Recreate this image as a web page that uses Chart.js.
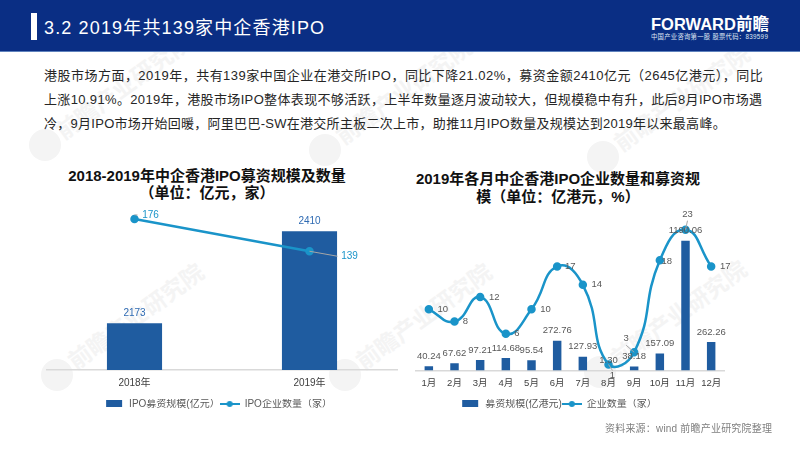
<!DOCTYPE html>
<html>
<head>
    <meta charset="utf-8">
    <title>2019年共139家中企香港IPO</title>
    <script src="https://cdn.jsdelivr.net/npm/chart.js"></script>
    <style>
        html, body { margin: 0; padding: 0; background: #fff; }
        #page { position: relative; width: 800px; height: 450px; overflow: hidden; font-family: "Liberation Sans", "Noto Sans CJK SC", sans-serif; }
        #page div, #page canvas { position: absolute; }
        #header { left: 0; top: 0; width: 800px; height: 52px; background: #0a2e84; border-bottom: 1px solid #5f82bd; box-sizing: border-box; }
        #bar { left: 31px; top: 13px; width: 6px; height: 27px; background: #fff; }
        #headline { left: 44px; top: 16px; color: #fff; font-size: 18px; letter-spacing: 1.15px; white-space: nowrap; line-height: 24px; }
        #logo { left: 651px; top: 14px; color: #fff; font-size: 16.5px; font-weight: bold; white-space: nowrap; line-height: 20px; }
        #sublogo { left: 651px; top: 33px; color: #dfe6f3; font-size: 6.3px; letter-spacing: .3px; white-space: nowrap; line-height: 8px; }
        .para { left: 44px; color: #262626; font-size: 13px; white-space: nowrap; line-height: 18px; }
        .ctitle { color: #111; font-size: 15px; font-weight: bold; text-align: center; white-space: nowrap; line-height: 18px; }
        #source { left: 605px; top: 423px; color: #7f7f7f; font-size: 10px; letter-spacing: .2px; white-space: nowrap; line-height: 12px; }
        .wm { color: #f4f4f4; font-size: 23px; font-weight: bold; white-space: nowrap; transform: rotate(-36deg); transform-origin: 0 50%; line-height: 26px; }
        .wmdot { width: 32px; height: 32px; border-radius: 50%; background: #f4f4f4; }
    </style>
</head>
<body>
<div id="page">
    <div id="marks"></div>
    <div id="header"></div>
    <div id="bar"></div>
    <div id="headline">3.2 2019年共139家中企香港IPO</div>
    <div id="logo">FORWARD前瞻</div>
    <div id="sublogo">中国产业咨询第一股 股票代码：839599</div>
    <div class="para" style="top:67px;letter-spacing:.48px">港股市场方面，2019年，共有139家中国企业在港交所IPO，同比下降21.02%，募资金额2410亿元（2645亿港元），同比</div>
    <div class="para" style="top:91px;letter-spacing:.35px">上涨10.91%。2019年，港股市场IPO整体表现不够活跃，上半年数量逐月波动较大，但规模稳中有升，此后8月IPO市场遇</div>
    <div class="para" style="top:115px;letter-spacing:.28px">冷，9月IPO市场开始回暖，阿里巴巴-SW在港交所主板二次上市，助推11月IPO数量及规模达到2019年以来最高峰。</div>
    <div class="ctitle" style="left:47px;width:320px;top:167px">2018-2019年中企香港IPO募资规模及数量</div>
    <div class="ctitle" style="left:47px;width:320px;top:184px">（单位：亿元，家）</div>
    <div class="ctitle" style="left:400px;width:316px;top:170px">2019年各月中企香港IPO企业数量和募资规</div>
    <div class="ctitle" style="left:400px;width:316px;top:188px">模（单位：亿港元，%）</div>
    <canvas id="yearChart" style="left:40px;top:195px;width:365px;height:232px"></canvas>
    <canvas id="monthChart" style="left:400px;top:195px;width:345px;height:232px"></canvas>
    <div id="source">资料来源：wind 前瞻产业研究院整理</div>
</div>
<script>
    // chart 1
    const yearLabels = ['2018年', '2019年'];
    const yearFunds = [2173, 2410];
    const yearCounts = [176, 139];

    // chart 2
    const monthLabels = ['1月', '2月', '3月', '4月', '5月', '6月', '7月', '8月', '9月', '10月', '11月', '12月'];
    const monthFunds = [40.24, 67.62, 97.21, 114.68, 95.54, 272.76, 127.93, 1.30, 38.18, 157.09, 1190.06, 262.26];
    const monthCounts = [10, 8, 12, 6, 10, 17, 14, 1, 3, 18, 23, 17];

    const BAR_BLUE = '#1f5ca0';
    const LINE_BLUE = '#1a94c9';
    const FONT = '"Liberation Sans", "Noto Sans CJK SC", sans-serif';

    // label offsets from the point, and which ones get a leader line
    const yearCountOffsets = [[16, -4], [40, 5]];
    const yearCountLeaders = [[[0, -4], [3, -4]], [[0, 0], [28, 5]]];
    const monthCountOffsets = [[14, 0], [11, 0], [14, 0], [11, 0], [14, 0], [13, 0], [14, 0], [4, 11], [-8, -14], [7, 1], [2, -15], [14, 0]];
    const monthCountLeaders = { 7: [[0, 0], [4, 6]], 8: [[0, 0], [-8, -7]], 10: [[0, 0], [2, -9]] };

    // faint company marks behind everything
    const markSpots = [[45, 145], [325, 150], [603, 157], [57, 375], [345, 375], [600, 372]];
    markSpots.forEach(function(p) {
        const dot = document.createElement('div');
        dot.className = 'wmdot';
        dot.style.left = (p[0] - 16) + 'px';
        dot.style.top = (p[1] - 16) + 'px';
        const txt = document.createElement('div');
        txt.className = 'wm';
        txt.textContent = '前瞻产业研究院';
        txt.style.left = (p[0] + 14) + 'px';
        txt.style.top = (p[1] - 24) + 'px';
        document.getElementById('marks').append(dot, txt);
    });

    function swatch(kind) {
        const c = document.createElement('canvas');
        c.width = 20;
        c.height = 10;
        const g = c.getContext('2d');
        if (kind == 'bar') {
            g.fillStyle = BAR_BLUE;
            g.fillRect(2, 1, 16, 7);
        } else {
            g.strokeStyle = LINE_BLUE;
            g.lineWidth = 2;
            g.beginPath();
            g.moveTo(0, 5);
            g.lineTo(20, 5);
            g.stroke();
            g.fillStyle = LINE_BLUE;
            g.beginPath();
            g.arc(10, 5, 3, 0, Math.PI * 2);
            g.fill();
        }
        return c;
    }

    const labelPlugin = {
        id: 'valueLabels',
        afterLayout: function(chart, args, opts) {
            chart.legend.left += opts.legendShift;
            chart.legend.right += opts.legendShift;
        },
        afterDatasetsDraw: function(chart, args, opts) {
            const ctx = chart.ctx;
            ctx.save();
            ctx.font = opts.fontSize + 'px ' + FONT;
            ctx.textAlign = 'center';
            ctx.textBaseline = 'middle';
            const bars = chart.getDatasetMeta(0).data;
            bars.forEach(function(el, i) {
                ctx.fillStyle = opts.barColor;
                ctx.fillText(opts.barText(i), el.x, el.y - 10);
            });
            const points = chart.getDatasetMeta(1).data;
            points.forEach(function(el, i) {
                const leader = opts.leaders[i];
                if (leader) {
                    ctx.strokeStyle = '#a6a6a6';
                    ctx.lineWidth = 1;
                    ctx.beginPath();
                    ctx.moveTo(el.x + leader[0][0], el.y + leader[0][1]);
                    ctx.lineTo(el.x + leader[1][0], el.y + leader[1][1]);
                    ctx.stroke();
                }
                ctx.fillStyle = opts.lineColor;
                ctx.fillText(opts.lineText(i), el.x + opts.offsets[i][0], el.y + opts.offsets[i][1]);
            });
            ctx.restore();
        }
    };

    function comboChart(id, conf) {
        return new Chart(document.getElementById(id), {
            data: {
                labels: conf.labels,
                datasets: [
                    {
                        type: 'bar',
                        label: conf.barName,
                        data: conf.bars,
                        yAxisID: 'yBar',
                        backgroundColor: BAR_BLUE,
                        barPercentage: conf.barSize,
                        categoryPercentage: 1,
                        order: 2
                    },
                    {
                        type: 'line',
                        label: conf.lineName,
                        data: conf.line,
                        yAxisID: 'yLine',
                        borderColor: LINE_BLUE,
                        backgroundColor: LINE_BLUE,
                        borderWidth: 2.5,
                        pointRadius: 3,
                        tension: conf.tension,
                        clip: false,
                        order: 1
                    }
                ]
            },
            options: {
                responsive: false,
                animation: false,
                devicePixelRatio: 1,
                layout: { padding: conf.padding },
                scales: {
                    x: {
                        grid: { display: false, drawTicks: false },
                        border: { color: '#d9d9d9', width: 1.5 },
                        ticks: { color: '#404040', font: { size: conf.tickSize, family: FONT }, padding: 7, maxRotation: 0, minRotation: 0, autoSkip: false },
                        afterFit: function(scale) { scale.height += conf.tickGap; }
                    },
                    yBar: { display: false, min: conf.barRange[0], max: conf.barRange[1] },
                    yLine: { display: false, min: conf.lineRange[0], max: conf.lineRange[1] }
                },
                plugins: {
                    tooltip: { enabled: false },
                    legend: {
                        position: 'bottom',
                        labels: {
                            color: '#595959',
                            font: { size: 10, family: FONT },
                            usePointStyle: true,
                            pointStyleWidth: 20,
                            boxHeight: 10,
                            padding: 0,
                            generateLabels: function() {
                                return [
                                    { text: conf.barName, pointStyle: swatch('bar'), fontColor: '#595959', datasetIndex: 0 },
                                    { text: conf.lineName, pointStyle: swatch('line'), fontColor: '#595959', datasetIndex: 1 }
                                ];
                            }
                        }
                    },
                    valueLabels: conf.valueLabels
                }
            },
            plugins: [labelPlugin]
        });
    }

    document.querySelectorAll('canvas').forEach(function(c) {
        c.width = parseInt(c.style.width);
        c.height = parseInt(c.style.height);
    });

    comboChart('yearChart', {
        labels: yearLabels,
        bars: yearFunds,
        line: yearCounts,
        barName: 'IPO募资规模(亿元）',
        lineName: 'IPO企业数量（家）',
        barSize: 0.315,
        tension: 0,
        tickSize: 10,
        tickGap: 3,
        padding: { left: 7, right: 8, top: 5, bottom: 8 },
        barRange: [2052, 2487],
        lineRange: [3, 196],
        valueLabels: {
            legendShift: -4,
            fontSize: 10,
            barColor: '#2f6bb3',
            lineColor: LINE_BLUE,
            barText: i => String(yearFunds[i]),
            lineText: i => String(yearCounts[i]),
            offsets: yearCountOffsets,
            leaders: yearCountLeaders
        }
    });

    comboChart('monthChart', {
        labels: monthLabels,
        bars: monthFunds,
        line: monthCounts,
        barName: '募资规模(亿港元)',
        lineName: '企业数量（家）',
        barSize: 0.33,
        tension: 0.5,
        tickSize: 9.5,
        tickGap: 3,
        padding: { left: 16, right: 21, top: 5, bottom: 8 },
        barRange: [0, 1550],
        lineRange: [0, 27.6],
        valueLabels: {
            legendShift: -11.5,
            fontSize: 9.5,
            barColor: '#595959',
            lineColor: '#595959',
            barText: i => monthFunds[i].toFixed(2),
            lineText: i => String(monthCounts[i]),
            offsets: monthCountOffsets,
            leaders: monthCountLeaders
        }
    });
</script>
</body>
</html>
